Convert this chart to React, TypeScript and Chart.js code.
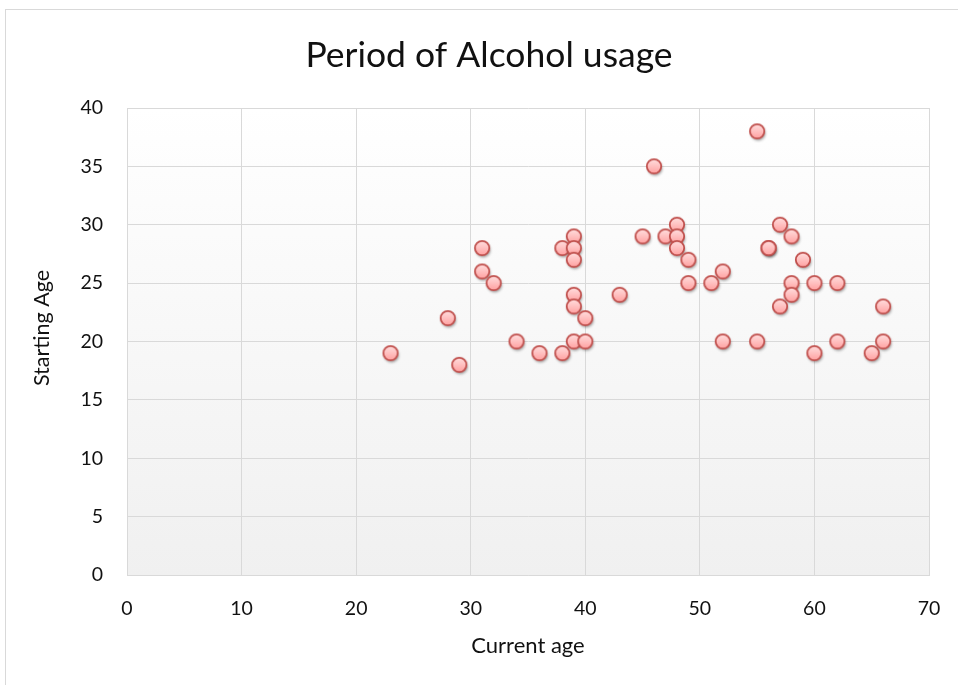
import { useEffect, useRef } from "react";
import { Chart, registerables } from "chart.js";

Chart.register(...registerables);

// Survey responses: current age vs. age when alcohol use started
const currentAge = [
  23, 28, 29, 31, 31, 32, 34, 36, 38, 38, 39, 39, 39, 39, 39, 39, 40, 40, 43, 45, 46, 47, 48, 48,
  48, 49, 49, 51, 52, 52, 55, 55, 56, 56, 57, 57, 58, 58, 58, 59, 60, 60, 62, 62, 65, 66, 66,
];
const startingAge = [
  19, 22, 18, 28, 26, 25, 20, 19, 19, 28, 29, 28, 27, 24, 23, 20, 20, 22, 24, 29, 35, 29, 30, 29,
  28, 27, 25, 25, 26, 20, 38, 20, 28, 28, 30, 23, 29, 25, 24, 27, 25, 19, 25, 20, 19, 23, 20,
];

const xRange = [0, 70];
const xStep = 10;
const yRange = [0, 40];
const yStep = 5;

const chartTitle = "Period of Alcohol usage";
const xAxisTitle = "Current age";
const yAxisTitle = "Starting Age";

const FONT = "Lato, 'Noto Sans', sans-serif";
const TEXT = "#111111";
const GRID = "#d9d9d9";

// Glossy pink marker with a soft drop shadow, used as an image point style
function makeMarker(): HTMLCanvasElement {
  const c = document.createElement("canvas");
  c.width = 24;
  c.height = 24;
  const g = c.getContext("2d")!;
  const cx = 12;
  const cy = 12;
  const r = 7.2;
  g.save();
  g.shadowColor = "rgba(0,0,0,0.4)";
  g.shadowBlur = 3;
  g.shadowOffsetX = 1;
  g.shadowOffsetY = 2;
  g.beginPath();
  g.arc(cx, cy, r, 0, Math.PI * 2);
  g.fillStyle = "#c0504d";
  g.fill();
  g.restore();
  const grad = g.createLinearGradient(0, cy - r, 0, cy + r);
  grad.addColorStop(0, "#ffdede");
  grad.addColorStop(0.5, "#ffc0c0");
  grad.addColorStop(1, "#ffa0a0");
  g.beginPath();
  g.arc(cx, cy, r, 0, Math.PI * 2);
  g.fillStyle = grad;
  g.fill();
  g.lineWidth = 1.8;
  g.strokeStyle = "#c0504d";
  g.stroke();
  return c;
}

// Plot area fill: white fading to light grey at the bottom
const plotBackground = {
  id: "plotBackground",
  beforeDraw(chart: any) {
    const { ctx, chartArea: a } = chart;
    const grad = ctx.createLinearGradient(0, a.top, 0, a.bottom);
    grad.addColorStop(0, "#ffffff");
    grad.addColorStop(1, "#f0f0f0");
    ctx.save();
    ctx.fillStyle = grad;
    ctx.fillRect(a.left, a.top, a.right - a.left, a.bottom - a.top);
    ctx.restore();
  },
};

// Chart title and vertical axis title
const titles = {
  id: "titles",
  afterDraw(chart: any) {
    const { ctx } = chart;
    ctx.save();
    ctx.fillStyle = TEXT;
    ctx.textAlign = "center";
    ctx.textBaseline = "alphabetic";
    ctx.font = `35.5px ${FONT}`;
    ctx.fillText(chartTitle, 489, 67);
    ctx.translate(42, 328);
    ctx.rotate(-Math.PI / 2);
    ctx.textBaseline = "middle";
    ctx.font = `21.5px ${FONT}`;
    ctx.fillText(yAxisTitle, 0, 0);
    ctx.restore();
  },
};

export default function App() {
  const ref = useRef<HTMLCanvasElement | null>(null);

  useEffect(() => {
    document.body.style.margin = "0";
    const marker = makeMarker();
    const points = currentAge.map((x, i) => ({ x, y: startingAge[i] }));
    const chart = new Chart(ref.current!, {
      type: "scatter",
      data: {
        datasets: [
          {
            label: yAxisTitle,
            data: points,
            pointStyle: marker as any,
            pointRadius: 7,
            pointHoverRadius: 7,
          },
        ],
      },
      options: {
        animation: false,
        responsive: false,
        devicePixelRatio: 1,
        layout: { padding: { top: 108, right: 29, bottom: 0, left: 0 } },
        plugins: {
          legend: { display: false },
          tooltip: { enabled: false },
          title: { display: false },
        },
        scales: {
          x: {
            type: "linear",
            min: xRange[0],
            max: xRange[1],
            afterFit(scale: any) {
              scale.height = 110;
              scale.paddingLeft = 0;
              scale.paddingRight = 0;
            },
            ticks: {
              stepSize: xStep,
              padding: 22,
              color: TEXT,
              font: { family: FONT, size: 19.5 },
            },
            grid: { color: GRID, lineWidth: 1, drawTicks: false },
            border: { color: GRID, width: 1 },
            title: {
              display: true,
              text: xAxisTitle,
              color: TEXT,
              font: { family: FONT, size: 22 },
              padding: { top: 0, bottom: 26 },
            },
          },
          y: {
            type: "linear",
            min: yRange[0],
            max: yRange[1],
            afterFit(scale: any) {
              scale.width = 127;
            },
            ticks: {
              stepSize: yStep,
              padding: 24,
              color: TEXT,
              font: { family: FONT, size: 19.5 },
            },
            grid: { color: GRID, lineWidth: 1, drawTicks: false },
            border: { color: GRID, width: 1 },
          },
        },
      },
      plugins: [plotBackground, titles],
    });
    return () => chart.destroy();
  }, []);

  return (
    <div
      style={{
        position: "fixed",
        left: 0,
        top: 0,
        width: 958,
        height: 685,
        overflow: "hidden",
        background: "#ffffff",
      }}
    >
      <div
        style={{
          position: "absolute",
          left: 5,
          top: 9,
          width: 1000,
          height: 720,
          border: "1px solid #d9d9d9",
        }}
      />
      <canvas
        ref={ref}
        width={958}
        height={685}
        style={{ position: "absolute", left: 0, top: 0, display: "block" }}
      />
    </div>
  );
}
